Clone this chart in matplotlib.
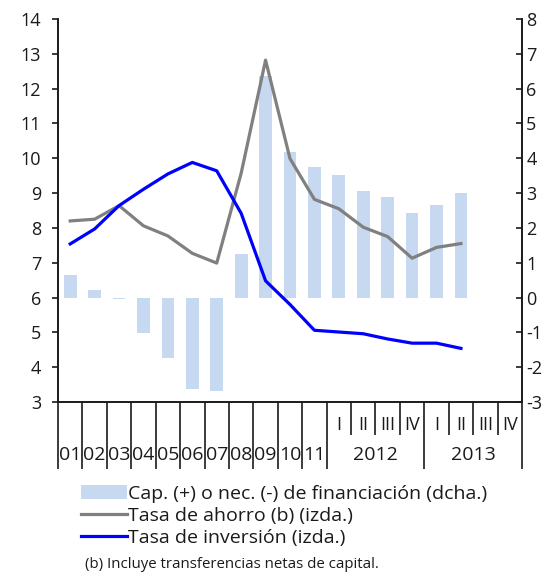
import matplotlib
matplotlib.use("Agg")
import matplotlib.pyplot as plt
from matplotlib.patches import Patch
from matplotlib.lines import Line2D
import matplotlib.transforms as mtransforms

plt.rcParams['font.family'] = ['Open Sans', 'DejaVu Sans']
plt.rcParams['axes.unicode_minus'] = False

years = ["01", "02", "03", "04", "05", "06", "07", "08", "09", "10", "11"]
quarters = ["I", "II", "III", "IV", "I", "II", "III", "IV"]
quarter_years = ["2012", "2013"]

cap_nec = [0.65, 0.23, -0.05, -1.03, -1.75, -2.63, -2.67, 1.25, 6.37, 4.17, 3.75,
           3.52, 3.05, 2.90, 2.44, 2.67, 3.00]
ahorro = [8.20, 8.25, 8.64, 8.06, 7.77, 7.27, 6.99, 9.57, 12.82, 9.99, 8.82,
          8.55, 8.02, 7.75, 7.13, 7.44, 7.55]
inversion = [7.54, 7.97, 8.64, 9.11, 9.55, 9.88, 9.64, 8.42, 6.48, 5.80, 5.06,
             5.01, 4.96, 4.81, 4.69, 4.69, 4.54]

labels = ["Cap. (+) o nec. (-) de financiación (dcha.)",
          "Tasa de ahorro (b) (izda.)",
          "Tasa de inversión (izda.)"]
footnote = "(b) Incluye transferencias netas de capital."

n_slots = len(years) + len(quarters)
xs = [i + 0.5 for i in range(len(cap_nec))]

fig = plt.figure(figsize=(5.55, 5.76), dpi=100)
ax = fig.add_axes([58/555, 1 - 402/576, (522-58)/555, (402-19)/576])
ax2 = ax.twinx()
ax.set_zorder(ax2.get_zorder() + 1)
ax.patch.set_visible(False)

bar_color = "#c6d9f1"
ax2.bar(xs, cap_nec, width=0.52, color=bar_color, zorder=1)
ax.plot(xs, ahorro, color="#808080", lw=2.3, zorder=3)
ax.plot(xs, inversion, color="#0000ff", lw=2.3, zorder=4)

ax.set_xlim(0, n_slots)
ax.set_ylim(3, 14)
ax2.set_ylim(-3, 8)
ax.set_yticks(range(3, 15))
ax2.set_yticks(range(-3, 9))

dark = '#1a1a1a'
fs = 13
for a in (ax, ax2):
    a.spines['top'].set_visible(False)
    for s in ('left', 'right', 'bottom'):
        a.spines[s].set_linewidth(1.2)
        a.spines[s].set_color(dark)
ax.tick_params(axis='y', direction='out', length=4, width=1.2, labelsize=fs, pad=8, colors=dark)
ax2.tick_params(axis='y', direction='in', length=4, width=1.2, labelsize=fs, pad=3, colors=dark)

# x ticks: long separators at year boundaries, short between quarters
n_years = len(years)
major = list(range(0, n_years + 1)) + [n_years + 4, n_years + 8]
minor = [n_years + 1, n_years + 2, n_years + 3, n_years + 5, n_years + 6, n_years + 7]
ax.set_xticks(major)
ax.set_xticks(minor, minor=True)
ax.set_xticklabels([])
ax.tick_params(axis='x', which='major', direction='out', length=48, width=1.2, colors=dark)
ax.tick_params(axis='x', which='minor', direction='out', length=24, width=1.2, colors=dark)

trans = mtransforms.blended_transform_factory(ax.transData, ax.transAxes)
for i, y in enumerate(years):
    ax.text(i + 0.5, -0.139, y, transform=trans, ha='center', va='center', fontsize=14, color=dark)
for j, q in enumerate(quarters):
    ax.text(n_years + j + 0.5, -0.059, q, transform=trans, ha='center', va='center', fontsize=13, color=dark)
for k, qy in enumerate(quarter_years):
    ax.text(n_years + 4 * k + 2, -0.139, qy, transform=trans, ha='center', va='center', fontsize=14, color=dark)

handles = [Patch(facecolor=bar_color, edgecolor='none'),
           Line2D([], [], color="#808080", lw=2.3),
           Line2D([], [], color="#0000ff", lw=2.3)]
fig.legend(handles, labels, loc='upper left', bbox_to_anchor=(81/555, 1 - 485/576),
           frameon=False, fontsize=14, handlelength=2.37, handletextpad=0.05,
           labelspacing=0.2, borderpad=0, borderaxespad=0, labelcolor=dark)
fig.text(85/555, 1 - 565/576, footnote, fontsize=10.8, ha='left', va='center', color=dark)

fig.savefig("out.png", dpi=100)
